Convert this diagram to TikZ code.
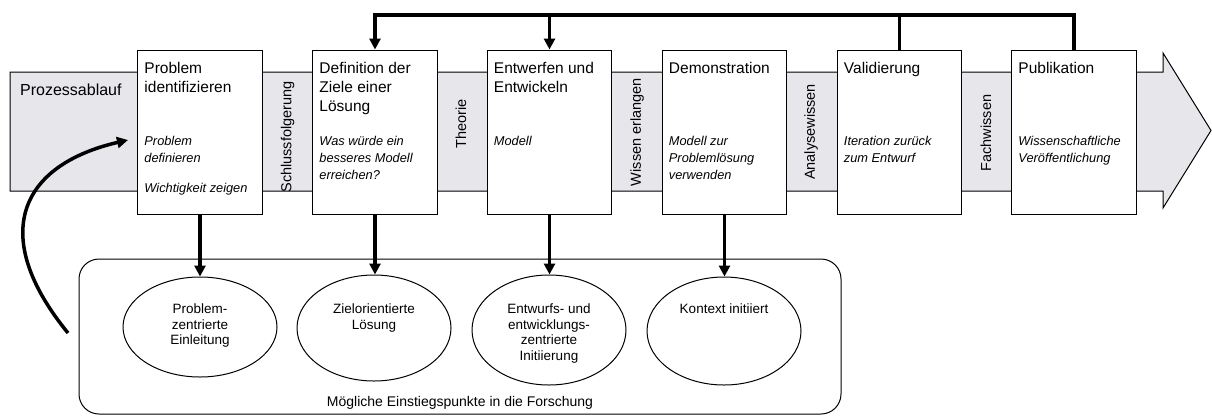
\documentclass[tikz,border=0pt]{standalone}
\usepackage{fontspec}
\setmainfont{Liberation Sans}
\usetikzlibrary{arrows.meta,shapes.geometric,calc}
\definecolor{bandgray}{RGB}{231,230,234}
\begin{document}
\begin{tikzpicture}[x=1pt,y=-1pt,
  stepbox/.style={draw, fill=white, line width=1pt, minimum width=124.5, minimum height=164, inner sep=0},
  steptitle/.style={anchor=north west, align=left, inner sep=0, font=\fontsize{15.5}{19}\selectfont},
  stepdesc/.style={anchor=north west, align=left, inner sep=0, font=\fontsize{12.8}{16.7}\selectfont\itshape},
  gaplabel/.style={rotate=90, inner sep=0, font=\fontsize{14.5}{17}\selectfont},
  entry/.style={draw, ellipse, line width=1pt, minimum width=154, inner sep=0},
  entrytext/.style={anchor=north, align=center, inner sep=0, font=\fontsize{13.5}{15.7}\selectfont},
  heavy/.style={line width=3.5pt, line join=miter},
  heavyarrow/.style={heavy, -{Triangle[length=11pt,width=11pt]}}
]
\useasboundingbox (0,0) rectangle (1212,416);

% process band with arrow head
\path[draw, fill=bandgray, line width=1pt]
  (10,72) -- (1163,72) -- (1163,53) -- (1211,130.5) -- (1163,208) -- (1163,191) -- (10,191) -- cycle;
\node[anchor=base west, inner sep=0, font=\fontsize{16}{19}\selectfont] (flow) at (20,95) {Prozessablauf};

% process steps
\node[stepbox] (b1) at (200,132) {};
\node[stepbox] (b2) at (375,132) {};
\node[stepbox] (b3) at (549.5,132) {};
\node[stepbox] (b4) at (724.5,132) {};
\node[stepbox] (b5) at (899.5,132) {};
\node[stepbox] (b6) at (1074,132) {};

\node[steptitle] (t1) at ($(b1.north west)+(7,12.2)$) {Problem\\identifizieren};
\node[steptitle] (t2) at ($(b2.north west)+(7,12.2)$) {Definition der\\Ziele einer\\Lösung};
\node[steptitle] (t3) at ($(b3.north west)+(7,12.2)$) {Entwerfen und\\Entwickeln};
\node[steptitle] (t4) at ($(b4.north west)+(7,12.2)$) {Demonstration};
\node[steptitle] (t5) at ($(b5.north west)+(7,12.2)$) {Validierung};
\node[steptitle] (t6) at ($(b6.north west)+(7,12.2)$) {Publikation};

\node[stepdesc] (d1) at ($(b1.north west)+(7,87)$) {Problem\\definieren};
\node[stepdesc] (w1) at ($(b1.north west)+(7,134)$) {Wichtigkeit zeigen};
\node[stepdesc] (d2) at ($(b2.north west)+(7,87)$) {Was würde ein\\besseres Modell\\erreichen?};
\node[stepdesc] (d3) at ($(b3.north west)+(7,87)$) {Modell};
\node[stepdesc] (d4) at ($(b4.north west)+(7,87)$) {Modell zur\\Problemlösung\\verwenden};
\node[stepdesc] (d5) at ($(b5.north west)+(7,87)$) {Iteration zurück\\zum Entwurf};
\node[stepdesc] (d6) at ($(b6.north west)+(7,87)$) {Wissenschaftliche\\Veröffentlichung};

% labels between the steps
\node[gaplabel] (g1) at (287.5,137) {Schlussfolgerung};
\node[gaplabel] (g2) at (461,124) {Theorie};
\node[gaplabel] (g3) at (637,132) {Wissen erlangen};
\node[gaplabel] (g4) at (811,132) {Analysewissen};
\node[gaplabel] (g5) at (986,133) {Fachwissen};

% iteration loop above the steps
\coordinate (loop) at (0,15);
\draw[heavy] (b5.north) -- (b5.north |- loop);
\draw[heavyarrow] (b6.north) -- (b6.north |- loop) -- (b2.north |- loop) -- (b2.north);
\draw[heavyarrow] (b3.north |- loop) -- (b3.north);

% entry points
\node[draw, rounded corners=20, line width=1pt, minimum width=762, minimum height=155, inner sep=0] (entries) at (460,336.5) {};
\node[inner sep=0, font=\fontsize{14}{16}\selectfont] (caption) at (460,403) {Mögliche Einstiegspunkte in die Forschung};

\node[entry, minimum height=100] (e1) at (200,327) {};
\node[entry, minimum height=106] (e2) at (374,328) {};
\node[entry, minimum height=110] (e3) at (549,330) {};
\node[entry, minimum height=108] (e4) at (724,331) {};

\coordinate (txtrow) at (0,303.5);
\node[entrytext] (et1) at (e1 |- txtrow) {Problem-\\zentrierte\\Einleitung};
\node[entrytext] (et2) at (e2 |- txtrow) {Zielorientierte\\Lösung};
\node[entrytext] (et3) at (e3 |- txtrow) {Entwurfs- und\\entwicklungs-\\zentrierte\\Initiierung};
\node[entrytext] (et4) at (e4 |- txtrow) {Kontext initiiert};

\draw[heavyarrow] (b1.south) -- (b1.south |- e1.north);
\draw[heavyarrow] (b2.south) -- (b2.south |- e2.north);
\draw[heavyarrow] (b3.south) -- (b3.south |- e3.north);
\draw[heavyarrow] (b4.south) -- (b4.south |- e4.north);

% entering the process
\coordinate (start) at (68,333);
\coordinate (enter) at (128,140);
\draw[heavy, -{Triangle[length=11pt,width=11pt]}] (start) .. controls (-12,235) and (20,165) .. (enter);
\end{tikzpicture}
\end{document}
